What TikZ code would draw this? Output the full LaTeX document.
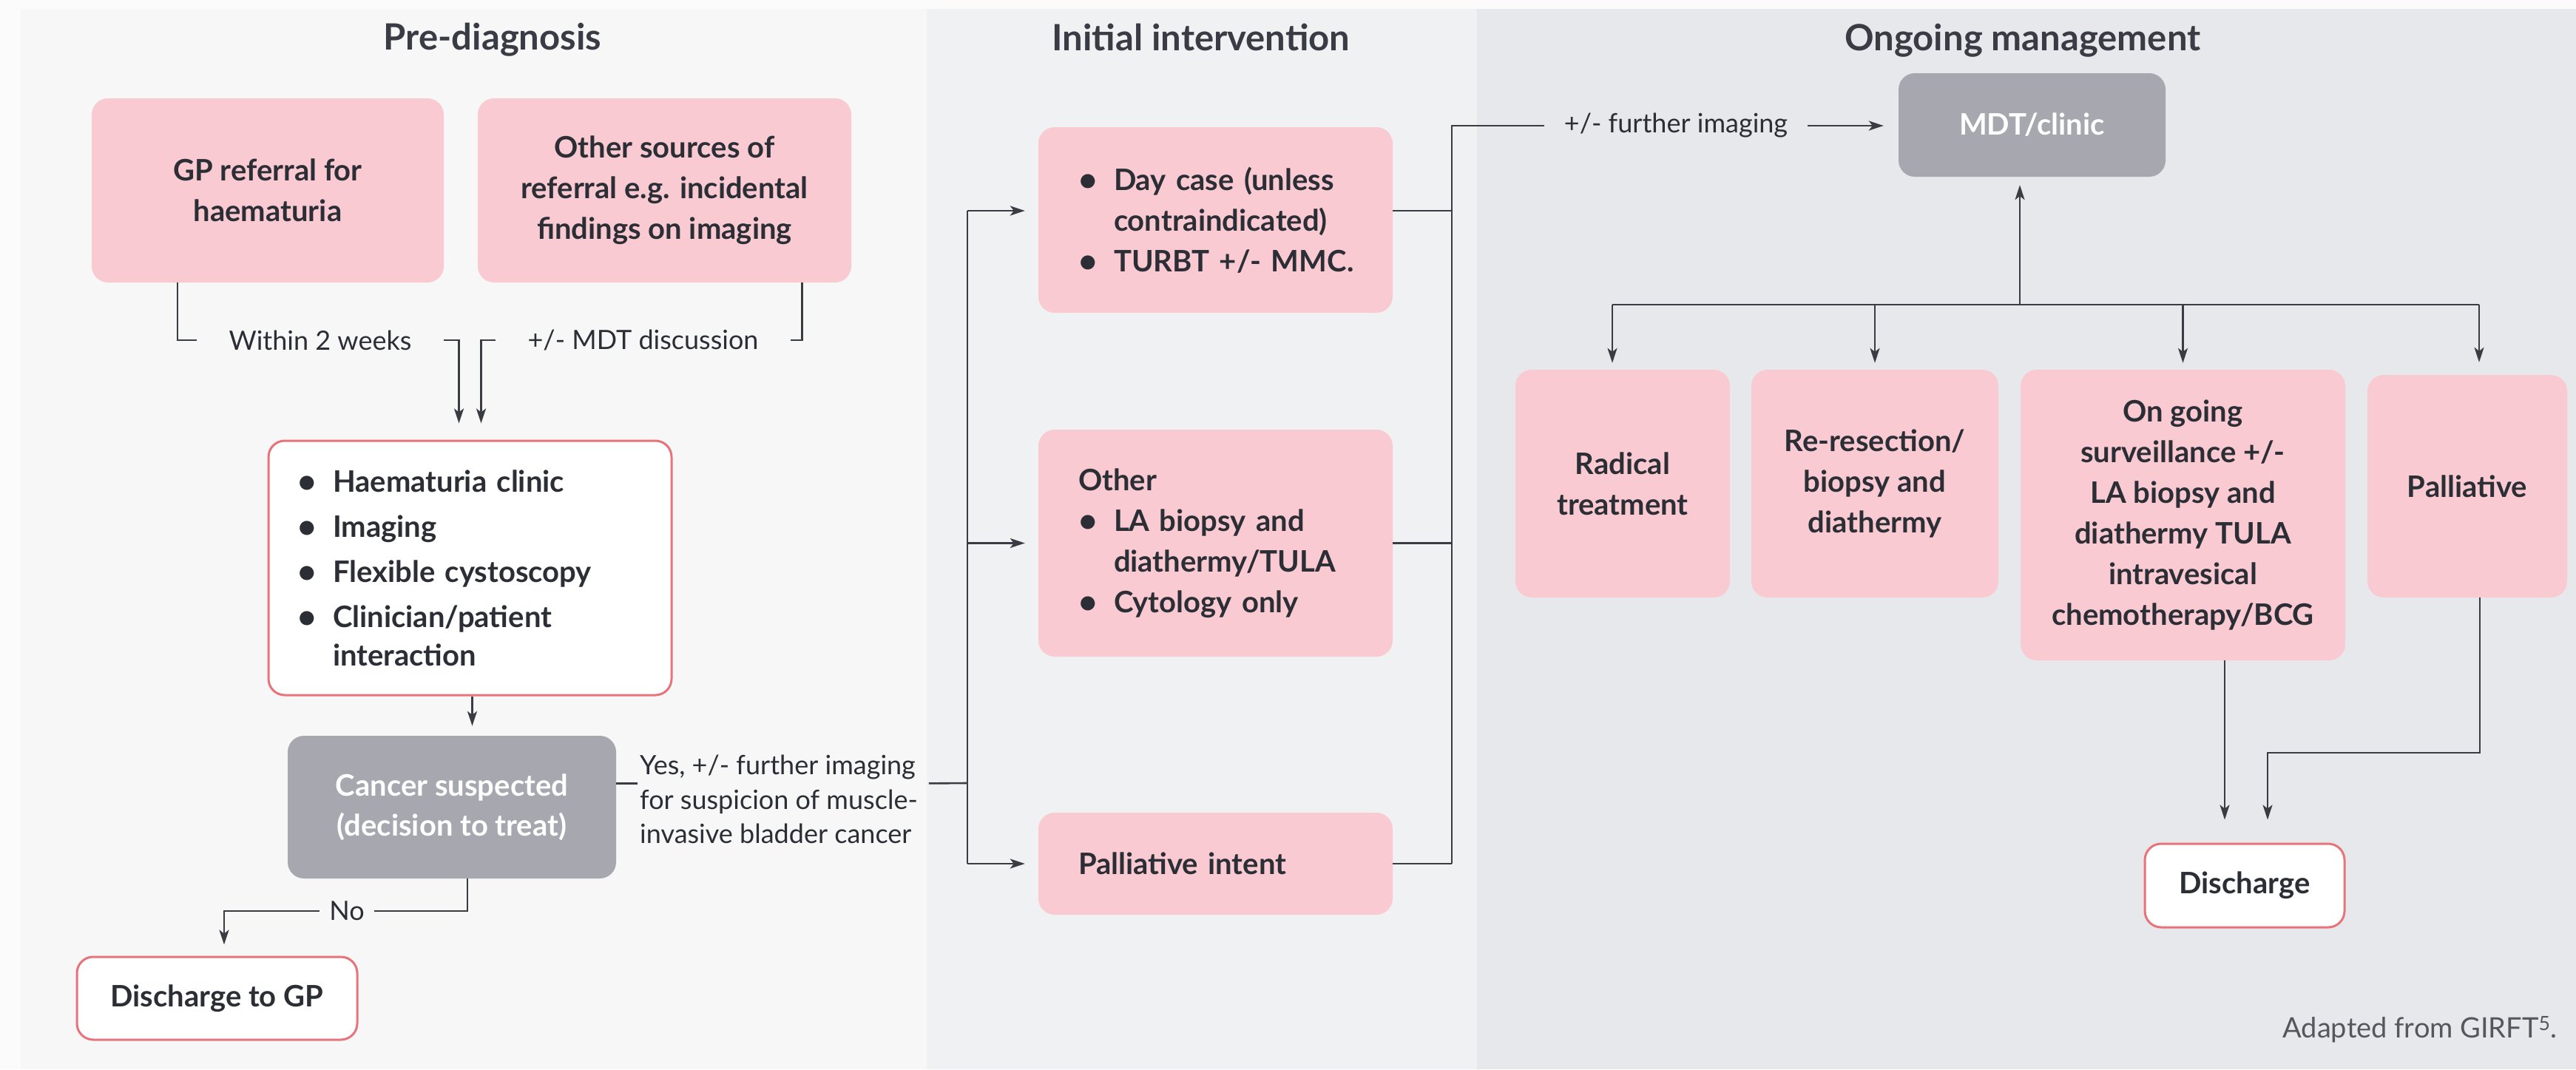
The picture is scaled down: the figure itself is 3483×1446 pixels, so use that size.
\documentclass[tikz,border=0pt]{standalone}
\usepackage{fontspec}
\setmainfont{Lato}
\usetikzlibrary{arrows.meta,calc}
\definecolor{ink}{HTML}{2C2E35}
\definecolor{titleC}{HTML}{3A3C45}
\definecolor{lineC}{HTML}{3A3C44}
\definecolor{pinkF}{HTML}{F9CAD2}
\definecolor{redB}{HTML}{E8747B}
\definecolor{grayF}{HTML}{A6A7AF}
\definecolor{bgA}{HTML}{F7F7F7}
\definecolor{bgB}{HTML}{F0F1F2}
\definecolor{bgC}{HTML}{E7E8EB}
\definecolor{bgO}{HTML}{FBFBFB}
\definecolor{noteC}{HTML}{55575E}
\newcommand\bl{\makebox[48pt][l]{\raisebox{-1pt}{\scalebox{1.1}{\textbullet}}}}
\begin{document}
\begin{tikzpicture}[x=1pt,y=-1pt,
  every node/.style={text=ink},
  boxfont/.style={font=\fontsize{40}{55}\selectfont\bfseries},
  pbox/.style={boxfont, fill=pinkF, draw=none, rounded corners=22pt, align=center, inner sep=0pt},
  wbox/.style={boxfont, fill=white, draw=redB, line width=3pt, rounded corners=22pt, align=center, inner sep=0pt},
  gbox/.style={boxfont, fill=grayF, draw=none, text=white, rounded corners=22pt, align=center, inner sep=0pt},
  lab/.style={font=\fontsize{36}{46.5}\selectfont, inner ysep=0pt},
  conn/.style={draw=lineC, line width=2.6pt},
  arr/.style={conn, -{Stealth[length=20pt,width=13pt,inset=5pt]}},
  ttl/.style={font=\fontsize{49}{52}\selectfont\bfseries, text=titleC, anchor=base}
]
\useasboundingbox (0,0) rectangle (3483,1446);
\fill[bgO] (0,0) rectangle (3483,1446);
\fill[bgA] (28,12) rectangle (1253,1446);
\fill[bgB] (1253,12) rectangle (1997,1446);
\fill[bgC] (1997,12) rectangle (3483,1446);

% titles
\node[ttl] (t1) at (666,67) {Pre-diagnosis};
\node[ttl] (t2) at (1624,68) {Initial intervention};
\node[ttl] (t3) at (2735,68) {Ongoing management};

% panel 1
\node[pbox, minimum width=476pt, minimum height=249pt] (gp) at (362,257.5) {GP referral for\\haematuria};
\node[pbox, minimum width=505pt, minimum height=249pt] (oth) at (898.5,257.5) {Other sources of\\referral e.g. incidental\\findings on imaging};
\node[wbox, minimum width=545pt, minimum height=344pt, text width=467pt, align=left, font=\fontsize{40}{52}\selectfont\bfseries] (hc) at (635.5,768)
  {\bl Haematuria clinic\\[9pt]\bl Imaging\\[9pt]\bl Flexible cystoscopy\\[9pt]\bl Clinician/patient\\\hspace*{48pt}interaction};
\node[gbox, minimum width=444pt, minimum height=193pt, font=\fontsize{40}{54}\selectfont\bfseries] (cs) at (611,1091.5) {Cancer suspected\\(decision to treat)};
\node[wbox, minimum width=379pt, minimum height=112pt] (dgp) at (293.5,1350) {Discharge to GP};

\node[lab, inner xsep=43pt] (wk) at (433,460) {Within 2 weeks};
\node[lab, inner xsep=43pt] (md) at (869.5,460) {+/- MDT discussion};
\node[lab, inner xsep=13pt] (no) at (469,1232) {No};
\node[lab, inner sep=0pt, align=left, anchor=west] (yes) at (865,1081) {Yes, +/- further imaging\\for suspicion of muscle-\\invasive bladder cancer};

\coordinate (gpx) at ($(gp.south)+(-122,0)$);
\coordinate (othx) at ($(oth.south)+(186,0)$);
\coordinate (hcl) at ($(hc.north)+(-15,0)$);
\coordinate (hcr) at ($(hc.north)+(15,0)$);
\draw[conn] (gpx) |- (wk.west);
\draw[arr, shorten >=22pt] (wk.east) -| (hcl);
\draw[conn] (othx) |- (md.east);
\draw[arr, shorten >=22pt] (md.west) -| (hcr);
\coordinate (hcx) at ($(hc.south)+(3,0)$);
\draw[arr, shorten >=13pt] (hcx) -- (hcx |- cs.north);
\coordinate (csx) at ($(cs.south)+(21,0)$);
\coordinate (dgx) at ($(dgp.north)+(9.5,0)$);
\draw[conn] (csx) |- (no.east);
\draw[arr, shorten >=15pt] (no.west) -| (dgx);

% panel 2
\node[pbox, minimum width=479pt, minimum height=251pt, text width=371pt, align=left] (dc) at (1643.5,297.5)
  {\mbox{\bl Day case (unless}\\\mbox{\hspace*{48pt}contraindicated)}\\\mbox{\bl TURBT +/- MMC.}};
\node[pbox, minimum width=479pt, minimum height=307pt, text width=371pt, align=left] (ot) at (1643.5,734.5)
  {Other\\\mbox{\bl LA biopsy and}\\\mbox{\hspace*{48pt}diathermy/TULA}\\\mbox{\bl Cytology only}};
\node[pbox, minimum width=479pt, minimum height=138pt, text width=371pt, align=left] (pi) at (1643.5,1168) {Palliative intent};

\coordinate (yl) at ($(cs.east)+(0,-32)$);
\coordinate (busL) at (1308,1059);
\coordinate (busT) at (1308,285);
\coordinate (busB) at (1308,1168);
\draw[conn, shorten >=3pt] (yl) -- (yl -| yes.west);
\draw[conn, shorten <=15pt] (yl -| yes.east) -- (busL);
\draw[conn] (busT) -- (busB);
\draw[arr, shorten >=18pt] (busT) -- (busT -| dc.west);
\draw[arr, shorten >=18pt] (busT |- ot.west) -- (ot.west);
\draw[arr, shorten >=18pt] (busB) -- (busB -| pi.west);

% panel 3
\node[gbox, minimum width=361pt, minimum height=140pt] (mdt) at (2747.5,169) {MDT/clinic};
\node[lab, inner xsep=27pt] (fi) at (2266,170) {+/- further imaging};
\node[pbox, minimum width=290pt, minimum height=308pt] (rad) at (2194,654) {Radical\\treatment};
\node[pbox, minimum width=334pt, minimum height=308pt] (rer) at (2535,654) {Re-resection/\\biopsy and\\diathermy};
\node[pbox, minimum width=439pt, minimum height=393pt] (ong) at (2951.5,696.5) {On going\\surveillance +/-\\LA biopsy and\\diathermy TULA\\intravesical\\chemotherapy/BCG};
\node[pbox, minimum width=270pt, minimum height=301pt] (pal) at (3336,657.5) {Palliative};
\node[wbox, minimum width=270pt, minimum height=113pt] (dis) at (3035,1197.5) {Discharge};

\coordinate (rbT) at (1963,170);
\coordinate (rbB) at (1963,1168);
\draw[conn] (busT -| dc.east) -- (busT -| rbT);
\draw[conn] (ot.east) -- (ot.east -| rbT);
\draw[conn] (pi.east) -- (rbB);
\draw[conn] (rbB) -- (rbT) -- (fi.west);
\draw[arr, shorten >=20pt] (fi.east) -- (fi.east -| mdt.west);

\coordinate (bb) at (2731,412);
\coordinate (bbL) at (2180,412);
\coordinate (bbR) at (3352,412);
\draw[arr, shorten >=11pt] (bb) -- (bb |- mdt.south);
\draw[conn] (bbL) -- (bbR);
\draw[arr, shorten >=9pt] (bbL) -- (bbL |- rad.north);
\draw[arr, shorten >=9pt] (rer.north |- bbL) -- (rer.north);
\draw[arr, shorten >=9pt] (ong.north |- bbL) -- (ong.north);
\draw[arr, shorten >=17pt] (bbR) -- (bbR |- pal.north);

\coordinate (ongx) at ($(ong.south)+(56.5,0)$);
\coordinate (palx) at ($(pal.south)+(17,0)$);
\coordinate (dx) at ($(dis.north)+(31,0)$);
\coordinate (dturn) at (3066,1018);
\draw[arr, shorten >=31pt] (ongx) -- (ongx |- dis.north);
\draw[arr, shorten >=31pt] (palx) |- (dturn) -- (dx);

\node[anchor=base east, font=\fontsize{38}{40}\selectfont, text=noteC] (src) at (3461,1403) {Adapted from GIRFT\textsuperscript{5}.};
\end{tikzpicture}
\end{document}
